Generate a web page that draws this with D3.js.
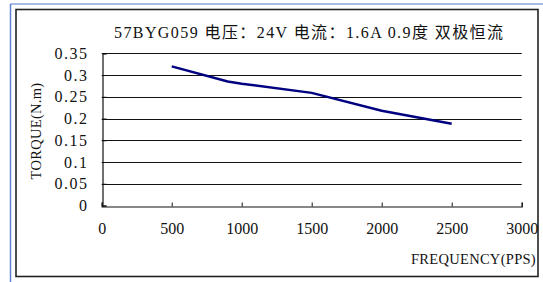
<!DOCTYPE html>
<html lang="zh">
<head>
<meta charset="UTF-8">
<title>57BYG059 torque curve</title>
<script src="https://d3js.org/d3.v7.min.js"></script>
<style>
  body { margin: 0; background: #fff; }
  text { font-family: "Liberation Serif", "Noto Sans CJK SC", serif; fill: #111; }
  .line { fill: none; stroke: #000080; stroke-width: 2.5px; }
</style>
</head>
<body>
<svg id="chart" width="543" height="282"></svg>
<script>
    // data
    const freq = [500, 900, 1000, 1500, 2000, 2500];
    const torque = [0.32, 0.285, 0.28, 0.259, 0.218, 0.188];
    const xTicks = [0, 500, 1000, 1500, 2000, 2500, 3000];
    const yTicks = [0, 0.05, 0.1, 0.15, 0.2, 0.25, 0.3, 0.35];
    const title = "57BYG059 电压：24V 电流：1.6A 0.9度 双极恒流";
    const xTitle = "FREQUENCY(PPS)";
    const yTitle = "TORQUE(N.m)";

    const svg = d3.select("#chart");

    // outer blue page lines + chart frame
    svg.append("line").attr("x1", 10.5).attr("x2", 543).attr("y1", 4).attr("y2", 4)
        .attr("stroke", "#8aa2dc").attr("stroke-width", 1.5);
    svg.append("line").attr("x1", 10.5).attr("x2", 10.5).attr("y1", 4).attr("y2", 282)
        .attr("stroke", "#5f80d8").attr("stroke-width", 1.5);
    svg.append("rect").attr("x", 16).attr("y", 9.5).attr("width", 522).attr("height", 267)
        .attr("fill", "none").attr("stroke", "#222").attr("stroke-width", 1.6);

    const x = d3.scaleLinear().domain([0, 3000]).range([101.7, 521.7]);
    const y = d3.scaleLinear().domain([0, 0.35]).range([205.5, 53.3]);

    // gridlines
    svg.append("g").selectAll("line").data(yTicks.filter(d => d > 0)).join("line")
        .attr("x1", x(0)).attr("x2", x(3000))
        .attr("y1", d => Math.round(y(d)) + 0.5).attr("y2", d => Math.round(y(d)) + 0.5)
        .attr("stroke", "#111").attr("stroke-width", 1);

    // axes
    const xAxis = svg.append("g")
        .attr("transform", `translate(0,${Math.round(y(0)) + 0.5})`)
        .call(d3.axisBottom(x).tickValues(xTicks).tickSize(-4).tickPadding(16)
            .tickFormat(d3.format("d")));
    xAxis.select(".domain").attr("stroke", "#111").attr("stroke-width", 1.2);
    xAxis.selectAll(".tick line").attr("stroke", "#111");
    xAxis.selectAll("text").attr("font-size", 16).attr("fill", "#111")
        .style("font-family", "'Liberation Serif', serif");

    const yAxis = svg.append("g")
        .attr("transform", `translate(${Math.round(x(0)) + 0.5},0)`)
        .call(d3.axisLeft(y).tickValues(yTicks).tickSize(-4).tickPadding(14)
            .tickFormat(d => d === 0 ? "0" : String(+d.toFixed(2))));
    yAxis.select(".domain").attr("stroke", "#111").attr("stroke-width", 1.2);
    yAxis.selectAll(".tick line").attr("stroke", "#111");
    yAxis.selectAll("text").attr("font-size", 16).attr("fill", "#111")
        .attr("letter-spacing", 1.5)
        .style("font-family", "'Liberation Serif', serif");

    // data line
    const line = d3.line().x(d => x(d[0])).y(d => y(d[1]));
    svg.append("path")
        .datum(freq.map((f, i) => [f, torque[i]]))
        .attr("class", "line")
        .attr("d", line);

    // titles
    svg.append("text").attr("x", 114).attr("y", 38)
        .attr("font-size", 16).attr("textLength", 389).attr("lengthAdjust", "spacing")
        .text(title);
    svg.append("text").attr("x", 536).attr("y", 264).attr("text-anchor", "end")
        .attr("font-size", 14.5).attr("letter-spacing", 0.3).text(xTitle);
    svg.append("text").attr("transform", "translate(41,131) rotate(-90)")
        .attr("text-anchor", "middle").attr("font-size", 14.5).attr("letter-spacing", 0.3)
        .text(yTitle);
</script>
</body>
</html>
